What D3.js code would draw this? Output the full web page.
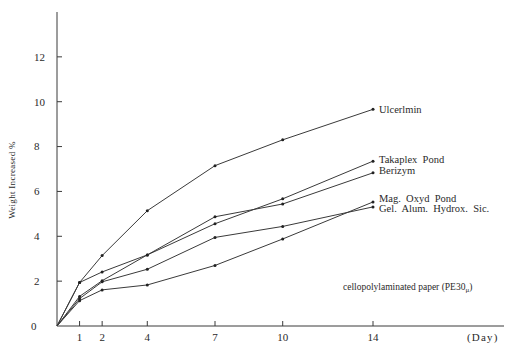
<!DOCTYPE html>
<html>
<head>
<meta charset="utf-8">
<style>
  body { margin: 0; background: #fff; }
  svg text { font-family: 'Liberation Serif', 'DejaVu Serif', serif; fill: #2a2a2a; }
</style>
</head>
<body>
<div id="chart"></div>
<script src="https://d3js.org/d3.v7.min.js"></script>
<script>
// days of measurement
var days = [0, 1, 2, 4, 7, 10, 14];
var dayTicks = [1, 2, 4, 7, 10, 14];
var weightTicks = [0, 2, 4, 6, 8, 10, 12];

// weight increased (%) per product
var seriesNames = ["Ulcerlmin", "Takaplex  Pond", "Berizym", "Mag.  Oxyd  Pond", "Gel.  Alum.  Hydrox.  Sic."];
var ulcerlmin = [0, 1.94, 3.14, 5.14, 7.15, 8.3, 9.66];
var takaplex  = [0, 1.32, 2.02, 3.17, 4.56, 5.67, 7.35];
var berizym   = [0, 1.94, 2.41, 3.17, 4.87, 5.44, 6.83];
var magOxyd   = [0, 1.13, 1.61, 1.83, 2.70, 3.88, 5.53];
var gelAlum   = [0, 1.22, 1.97, 2.53, 3.95, 4.44, 5.31];
var seriesValues = [ulcerlmin, takaplex, berizym, magOxyd, gelAlum];

var W = 505, H = 344;
var svg = d3.select("#chart").append("svg")
  .attr("width", W).attr("height", H);

var x = d3.scaleLinear().domain([0, 14]).range([57, 373]);
var y = d3.scaleLinear().domain([0, 14]).range([326, 12]);

var ink = "#3a3a3a";

// axes lines
svg.append("line")
  .attr("x1", x(0)).attr("x2", 504).attr("y1", y(0)).attr("y2", y(0))
  .attr("stroke", ink).attr("stroke-width", 1);
svg.append("line")
  .attr("x1", x(0)).attr("x2", x(0)).attr("y1", y(0)).attr("y2", y(14))
  .attr("stroke", ink).attr("stroke-width", 1);

// y ticks (inward)
svg.selectAll(".yt").data(weightTicks.filter(function(d) { return d > 0; }))
  .enter().append("line")
    .attr("x1", x(0)).attr("x2", x(0) + 5)
    .attr("y1", function(d) { return y(d); }).attr("y2", function(d) { return y(d); })
    .attr("stroke", ink);
svg.selectAll(".yl").data(weightTicks)
  .enter().append("text")
    .attr("x", function(d) { return d === 0 ? 31 : 34; })
    .attr("y", function(d) { return y(d); })
    .attr("dy", "0.35em")
    .attr("font-size", 11)
    .text(function(d) { return d; });

// x ticks (inward)
svg.selectAll(".xt").data(dayTicks)
  .enter().append("line")
    .attr("x1", function(d) { return x(d); }).attr("x2", function(d) { return x(d); })
    .attr("y1", y(0)).attr("y2", y(0) - 5)
    .attr("stroke", ink);
svg.selectAll(".xl").data(dayTicks)
  .enter().append("text")
    .attr("x", function(d) { return x(d); })
    .attr("y", 341)
    .attr("text-anchor", "middle")
    .attr("font-size", 11)
    .text(function(d) { return d; });

svg.append("text")
  .attr("x", 467).attr("y", 341)
  .attr("font-size", 11)
  .attr("letter-spacing", 1.2)
  .text("(Day)");

// y axis title
svg.append("text")
  .attr("transform", "translate(15,180) rotate(-90)")
  .attr("text-anchor", "middle")
  .attr("font-size", 9)
  .attr("letter-spacing", 0.3)
  .text("Weight  Increased   %");

// lines
var line = d3.line()
  .x(function(d, i) { return x(days[i]); })
  .y(function(d) { return y(d); });

seriesValues.forEach(function(vals, k) {
  svg.append("path")
    .attr("d", line(vals))
    .attr("fill", "none")
    .attr("stroke", ink)
    .attr("stroke-width", 1);
  svg.selectAll(".pt" + k).data(vals.slice(1))
    .enter().append("circle")
      .attr("cx", function(d, i) { return x(days[i + 1]); })
      .attr("cy", function(d) { return y(d); })
      .attr("r", 1.5)
      .attr("fill", "#222");
});

// series labels at line ends
var labelNudge = [0, -2, -2, -4, 1];
seriesNames.forEach(function(name, k) {
  var v = seriesValues[k];
  svg.append("text")
    .attr("x", x(days[days.length - 1]) + 6)
    .attr("y", y(v[v.length - 1]) + labelNudge[k])
    .attr("dy", "0.35em")
    .attr("font-size", 10.5)
    .attr("xml:space", "preserve")
    .style("white-space", "pre")
    .text(name);
});

// note
var note = svg.append("text")
  .attr("x", 343).attr("y", 290)
  .attr("font-size", 9.5)
  .text("cellopolylaminated paper (PE30");
note.append("tspan").attr("font-size", 7).attr("dy", 2).text("μ");
note.append("tspan").attr("dy", -2).text(")");
</script>
</body>
</html>
